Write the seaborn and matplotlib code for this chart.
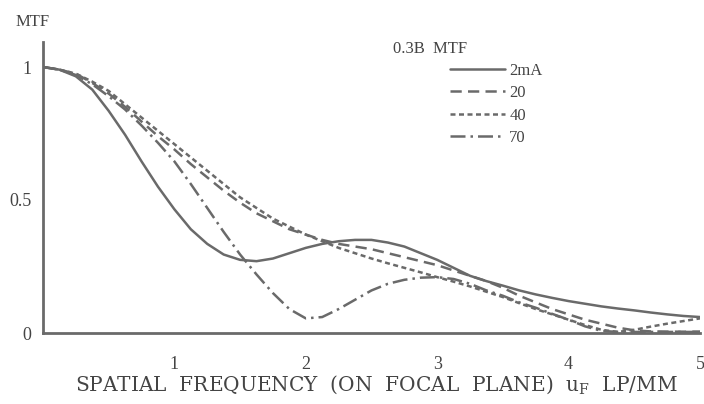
import pandas as pd
import matplotlib.pyplot as plt
import seaborn as sns

# MTF curves, every 1/8 LP/MM
freq = [i / 8 for i in range(41)]
mtf_2mA = [1.0, 0.99, 0.965, 0.915, 0.835, 0.745, 0.645, 0.55, 0.465, 0.39, 0.335,
           0.295, 0.275, 0.27, 0.28, 0.30, 0.32, 0.335, 0.345, 0.35, 0.35,
           0.34, 0.325, 0.30, 0.275, 0.245, 0.215, 0.195, 0.178, 0.16, 0.145,
           0.132, 0.12, 0.11, 0.10, 0.092, 0.085, 0.077, 0.07, 0.064, 0.06]
mtf_20 = [1.0, 0.99, 0.975, 0.94, 0.90, 0.85, 0.795, 0.74, 0.69, 0.635, 0.585,
          0.535, 0.49, 0.45, 0.42, 0.39, 0.37, 0.35, 0.335, 0.325, 0.315,
          0.30, 0.285, 0.27, 0.255, 0.235, 0.215, 0.195, 0.17, 0.14, 0.115,
          0.09, 0.07, 0.05, 0.035, 0.02, 0.01, 0.006, 0.005, 0.005, 0.005]
mtf_40 = [1.0, 0.99, 0.975, 0.945, 0.91, 0.86, 0.81, 0.76, 0.71, 0.66, 0.61,
          0.56, 0.51, 0.47, 0.43, 0.40, 0.37, 0.345, 0.32, 0.30, 0.28,
          0.262, 0.245, 0.228, 0.21, 0.193, 0.175, 0.155, 0.135, 0.112, 0.09,
          0.07, 0.05, 0.03, 0.012, 0.004, 0.012, 0.024, 0.035, 0.045, 0.055]
mtf_70 = [1.0, 0.99, 0.97, 0.935, 0.89, 0.84, 0.78, 0.715, 0.645, 0.56, 0.47,
          0.38, 0.295, 0.22, 0.15, 0.09, 0.055, 0.06, 0.09, 0.125, 0.16,
          0.185, 0.20, 0.208, 0.21, 0.203, 0.185, 0.16, 0.14, 0.115, 0.095,
          0.072, 0.05, 0.025, 0.008, 0.004, 0.004, 0.004, 0.004, 0.004, 0.004]
currents = ['2mA', '20', '40', '70']

frames = []
for name, vals in zip(currents, [mtf_2mA, mtf_20, mtf_40, mtf_70]):
    frames.append(pd.DataFrame({'freq': freq, 'mtf': vals, 'current': name}))
df = pd.concat(frames, ignore_index=True)

sns.set_style('white')
plt.rcParams['font.family'] = ['Liberation Serif', 'DejaVu Serif']
plt.rcParams['mathtext.fontset'] = 'dejavuserif'

gray = '#6a6a6a'
txt = '#444444'

fig = plt.figure(figsize=(7.04, 4.04), dpi=100)
ax = fig.add_axes([43 / 704, 1 - 333 / 404, 657 / 704, 291 / 404])

sns.lineplot(data=df, x='freq', y='mtf', style='current', style_order=currents,
             dashes={'2mA': '', '20': (4.5, 2.5), '40': (2, 1.4), '70': (6, 2, 1, 2)},
             color=gray, linewidth=1.8, legend=False, ax=ax)

ax.set_xlim(0, 5)
ax.set_ylim(0, 291 / 266)
sns.despine(ax=ax)
for s in ['left', 'bottom']:
    ax.spines[s].set_color(gray)
    ax.spines[s].set_linewidth(2)

ax.set_xticks([1, 2, 3, 4, 5])
ax.set_xticklabels(['1', '2', '3', '4', '5'])
ax.set_yticks([0, 0.5, 1])
ax.set_yticklabels(['0', '0.5', '1'])
ax.tick_params(axis='both', direction='inout', length=5, width=1.2, color=gray,
               labelsize=13, labelcolor=txt)
ax.tick_params(axis='x', pad=14)
ax.tick_params(axis='y', pad=6)
ax.set_xlabel('')
ax.set_ylabel('')

fig.text(33 / 704, 1 - 22 / 404, 'MTF', ha='center', va='center', fontsize=12, color=txt)
fig.text(376 / 704, 1 - 385 / 404,
         r'SPATIAL  FREQUENCY  (ON  FOCAL  PLANE)  u$_\mathregular{F}$  LP/MM',
         ha='center', va='center', fontsize=14.5, color=txt, family='DejaVu Serif')

fig.text(393 / 704, 1 - 49 / 404, '0.3B  MTF', ha='left', va='center', fontsize=12, color=txt)
ax.legend(ax.get_lines(), currents, loc='upper left',
          bbox_to_anchor=(450 / 704, 1 - 63 / 404), bbox_transform=fig.transFigure,
          frameon=False, fontsize=12, handlelength=3.3, handletextpad=0.25,
          labelspacing=0.38, borderpad=0, borderaxespad=0, labelcolor=txt)

fig.savefig('out.png', dpi=100)
